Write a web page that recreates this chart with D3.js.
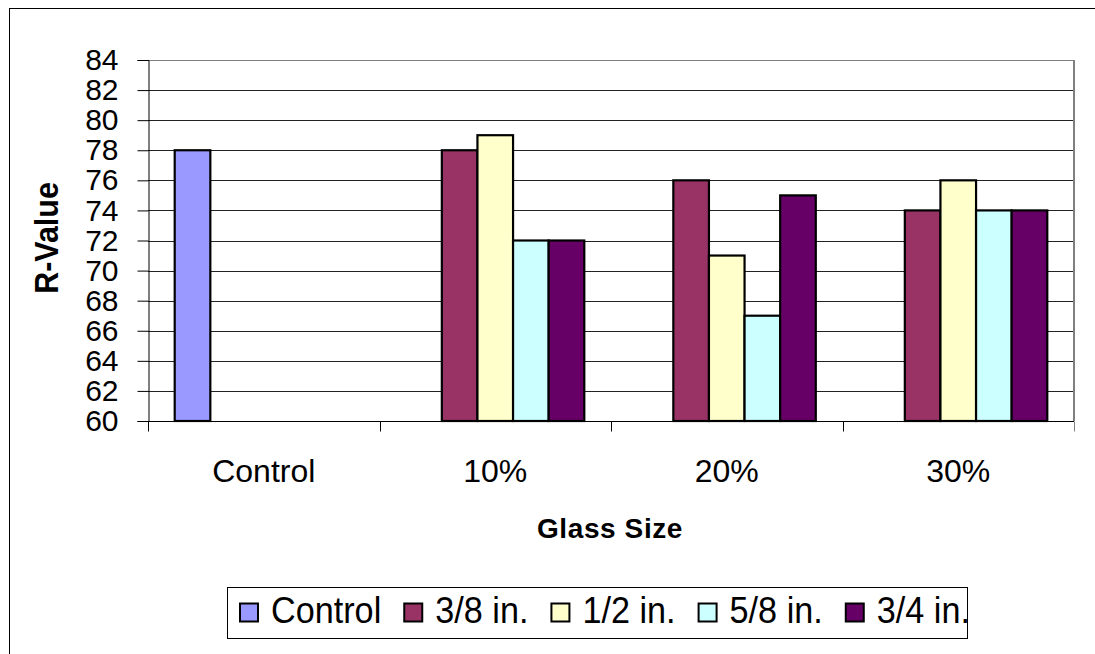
<!DOCTYPE html>
<html>
<head>
<meta charset="utf-8">
<script src="https://cdn.jsdelivr.net/npm/d3@7"></script>
<style>
  body { margin: 0; background: #fff; }
  svg { display: block; font-family: Arial, "Liberation Sans", sans-serif; }
</style>
</head>
<body>
<svg width="1095" height="654"></svg>
<script>
var categories = ["Control", "10%", "20%", "30%"];
var seriesNames = ["Control", "3/8 in.", "1/2 in.", "5/8 in.", "3/4 in."];
var seriesColors = ["#9999ff", "#993366", "#ffffcc", "#ccffff", "#660066"];
var controlValues = [78, null, null, null];
var in38Values = [null, 78, 76, 74];
var in12Values = [null, 79, 71, 76];
var in58Values = [null, 72, 67, 74];
var in34Values = [null, 72, 75, 74];
var yTicks = [60, 62, 64, 66, 68, 70, 72, 74, 76, 78, 80, 82, 84];

var seriesValues = [controlValues, in38Values, in12Values, in58Values, in34Values];

var svg = d3.select("svg"),
    plot = {left: 148, right: 1074, top: 60, bottom: 421};

// outer chart border
svg.append("rect")
    .attr("x", 9.5).attr("y", 8.5)
    .attr("width", 1100).attr("height", 700)
    .attr("fill", "#fff").attr("stroke", "#000");

var x0 = d3.scaleBand()
    .domain(categories)
    .range([plot.left, plot.right]);

var x1 = d3.scaleBand()
    .domain(seriesNames)
    .range([0, x0.bandwidth()])
    .paddingInner(0)
    .paddingOuter(0.75);

var y = d3.scaleLinear()
    .domain([60, 84])
    .range([plot.bottom, plot.top]);

// gridlines
svg.append("g")
  .selectAll("line").data(yTicks.slice(1)).enter().append("line")
    .attr("x1", plot.left).attr("x2", plot.right)
    .attr("y1", function(d) { return Math.round(y(d)) + 0.5; })
    .attr("y2", function(d) { return Math.round(y(d)) + 0.5; })
    .attr("stroke", function(d) { return d === 84 ? "#808080" : "#222"; })
    .attr("stroke-width", 1);

// plot area right border
svg.append("line")
    .attr("x1", plot.right).attr("x2", plot.right)
    .attr("y1", plot.top).attr("y2", plot.bottom)
    .attr("stroke", "#808080").attr("stroke-width", 2);

// bars
var bars = [];
seriesValues.forEach(function(vals, si) {
  vals.forEach(function(v, ci) {
    if (v != null) bars.push({series: seriesNames[si], color: seriesColors[si], cat: categories[ci], value: v});
  });
});

svg.append("g")
  .selectAll("rect").data(bars).enter().append("rect")
    .attr("x", function(d) { return x0(d.cat) + x1(d.series); })
    .attr("y", function(d) { return y(d.value); })
    .attr("width", x1.bandwidth())
    .attr("height", function(d) { return plot.bottom - y(d.value); })
    .attr("fill", function(d) { return d.color; })
    .attr("stroke", "#000")
    .attr("stroke-width", 2.2);

// y axis
var yAxis = svg.append("g")
    .attr("transform", "translate(" + (plot.left + 0.5) + ",0)")
    .call(d3.axisLeft(y).tickValues(yTicks).tickSize(11).tickPadding(19));
yAxis.select(".domain").attr("stroke", "#000");
yAxis.selectAll(".tick line").attr("stroke", "#000");
yAxis.selectAll(".tick text")
    .attr("font-size", 30)
    .attr("font-family", "Arial, 'Liberation Sans', sans-serif")
    .attr("fill", "#000");

// x axis
var xAxis = svg.append("g")
    .attr("transform", "translate(0," + (plot.bottom + 0.5) + ")");
xAxis.append("line")
    .attr("x1", plot.left).attr("x2", plot.right)
    .attr("stroke", "#000");
xAxis.selectAll("line.tk").data(categories.concat(["end"])).enter().append("line")
    .attr("class", "tk")
    .attr("x1", function(d, i) { return Math.round(plot.left + i * x0.step()) + 0.5; })
    .attr("x2", function(d, i) { return Math.round(plot.left + i * x0.step()) + 0.5; })
    .attr("y1", 0).attr("y2", 10)
    .attr("stroke", function(d, i) { return i === 4 ? "#808080" : "#000"; });
xAxis.selectAll("text").data(categories).enter().append("text")
    .attr("x", function(d) { return x0(d) + x0.bandwidth() / 2; })
    .attr("y", 60)
    .attr("text-anchor", "middle")
    .attr("font-size", 32)
    .text(function(d) { return d; });

// axis titles
svg.append("text")
    .attr("transform", "translate(58,238) rotate(-90) scale(1.05,1.15)")
    .attr("text-anchor", "middle")
    .attr("font-size", 29)
    .attr("font-weight", "bold")
    .text("R-Value");

svg.append("text")
    .attr("x", 610).attr("y", 538)
    .attr("text-anchor", "middle")
    .attr("font-size", 28)
    .attr("font-weight", "bold")
    .attr("letter-spacing", 0.6)
    .text("Glass Size");

// legend
var legend = svg.append("g");
legend.append("rect")
    .attr("x", 227.5).attr("y", 587.5)
    .attr("width", 740).attr("height", 51)
    .attr("fill", "#fff").attr("stroke", "#000");

var lx = 239;
seriesNames.forEach(function(name, i) {
  legend.append("rect")
      .attr("x", lx + 1).attr("y", 603.5)
      .attr("width", 18).attr("height", 18)
      .attr("fill", seriesColors[i])
      .attr("stroke", "#000").attr("stroke-width", 2);
  var t = legend.append("text")
      .attr("transform", "translate(" + (lx + 32) + ",623) scale(0.95,1)")
      .attr("font-size", 36)
      .text(name);
  lx += 32 + t.node().getComputedTextLength() * 0.95 + 22;
});
</script>
</body>
</html>
